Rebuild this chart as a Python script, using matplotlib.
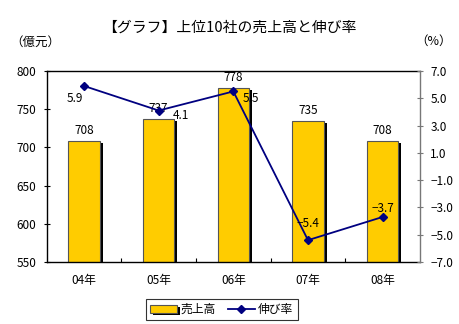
import matplotlib
matplotlib.use("Agg")
import matplotlib.pyplot as plt
import matplotlib.patheffects as pe
import numpy as np

plt.rcParams['font.family'] = ['Noto Sans CJK JP', 'DejaVu Sans']
plt.rcParams['axes.unicode_minus'] = True

categories = ['04年', '05年', '06年', '07年', '08年']
sales = [708, 737, 778, 735, 708]
growth = [5.9, 4.1, 5.5, -5.4, -3.7]
growth_labels = ['5.9', '4.1', '5.5', '−5.4', '−3.7']

fig = plt.figure(figsize=(4.59, 3.24), dpi=100)
ax = fig.add_axes([0.1017, 0.1914, 0.8133, 0.5896])
x = np.arange(len(categories))

bars = ax.bar(x, sales, width=0.42, color='#FFCC00', edgecolor='#555555', linewidth=0.8,
              bottom=0, zorder=2)
for b in bars:
    b.set_path_effects([pe.SimplePatchShadow(offset=(2.2, -1.5), shadow_rgbFace='black', alpha=1.0),
                        pe.Normal()])
ax.set_ylim(550, 800)
ax.set_xlim(-0.5, len(categories) - 0.5)
ax.set_yticks(np.arange(550, 801, 50))
ax.set_xticks(x)
ax.set_xticklabels(categories, fontsize=8.5)
ax.set_xticks(np.arange(0.5, len(categories) - 0.5, 1), minor=True)
ax.tick_params(axis='x', which='major', length=0, pad=9)
ax.tick_params(axis='x', which='minor', direction='in', length=3, width=0.8)
ax.tick_params(axis='y', direction='inout', length=5, width=0.8, pad=5, labelsize=8.5)
for s in ['left', 'top', 'bottom']:
    ax.spines[s].set_linewidth(1.0)
    ax.spines[s].set_color('black')
ax.spines['right'].set_visible(False)

for xi, v in zip(x, sales):
    ax.text(xi, v + 5, str(v), ha='center', va='bottom', fontsize=8.5)

ax2 = ax.twinx()
ax2.set_ylim(-7, 7)
ax2.set_yticks(np.arange(-7, 7.1, 2))
ax2.set_yticklabels([f'{v:.1f}'.replace('-', '−') for v in np.arange(-7, 7.1, 2)])
ax2.tick_params(axis='y', direction='inout', length=5, width=0.8, pad=5, labelsize=8.5,
                color='#777777')
ax2.spines['right'].set_color('#777777')
ax2.spines['right'].set_linewidth(1.0)
for s in ['left', 'top', 'bottom']:
    ax2.spines[s].set_visible(False)
line, = ax2.plot(x, growth, color='#000080', marker='D', markersize=4.5, linewidth=1.3, zorder=3)

offsets = [(-0.12, -0.9), (0.3, -0.4), (0.24, -0.5), (0.0, 1.2), (0.0, 0.6)]
for xi, v, lab, (dx, dy) in zip(x, growth, growth_labels, offsets):
    ax2.text(xi + dx, v + dy, lab, ha='center', va='center', fontsize=8.5)

fig.text(0.5, 0.914, '【グラフ】上位10社の売上高と伸び率', ha='center', va='center', fontsize=10.7)
fig.text(0.022, 0.87, '（億元）', ha='left', va='center', fontsize=9)
fig.text(0.905, 0.872, '（%）', ha='left', va='center', fontsize=9)

leg = fig.legend([bars, line], ['売上高', '伸び率'], loc='center', bbox_to_anchor=(0.483, 0.045),
                 ncol=2, frameon=True, fancybox=False, edgecolor='black', fontsize=8.5,
                 handlelength=2.3, handleheight=0.7, columnspacing=1.0, handletextpad=0.3,
                 borderpad=0.35)
leg.get_frame().set_linewidth(0.8)

fig.savefig('out.png', dpi=100)
